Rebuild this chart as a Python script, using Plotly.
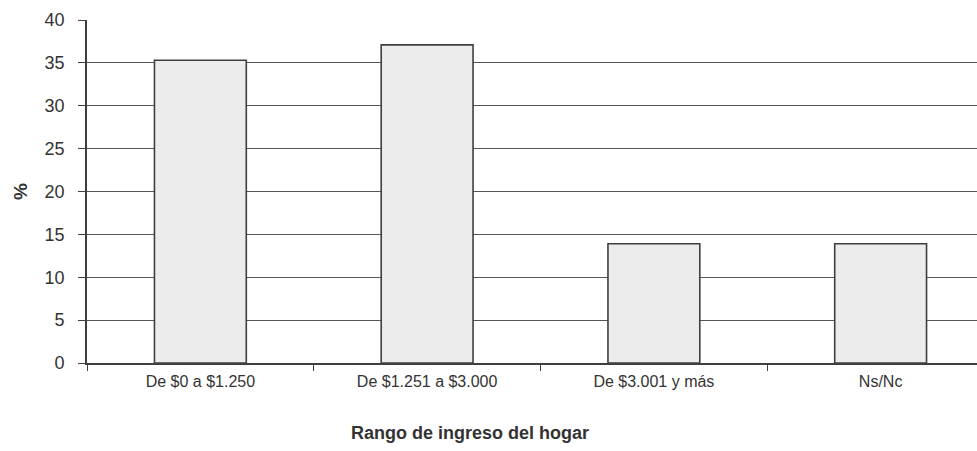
import plotly.graph_objects as go

categories = ["De $0 a $1.250", "De $1.251 a $3.000", "De $3.001 y más", "Ns/Nc"]
values = [35.3, 37.1, 13.9, 13.9]
y_ticks = [0, 5, 10, 15, 20, 25, 30, 35, 40]
x_title = "Rango de ingreso del hogar"

fig = go.Figure()
fig.add_trace(go.Bar(
    x=categories, y=values,
    marker=dict(color="#ececec", line=dict(color="#3f3f3f", width=1.6)),
    width=0.405,
))

fig.update_layout(
    width=994, height=451,
    margin=dict(l=87, r=0, t=20, b=88),
    paper_bgcolor="white", plot_bgcolor="white",
    font=dict(family="Liberation Sans, Arial, sans-serif", color="#333333"),
    showlegend=False,
)
fig.add_annotation(
    text="<b>" + x_title + "</b>", xref="paper", yref="paper",
    x=0.422, y=0, yshift=-70, xanchor="center", yanchor="middle",
    showarrow=False, font=dict(size=18, color="#333333"),
)
fig.update_xaxes(
    showline=True, linecolor="#3f3f3f", linewidth=1.6,
    ticks="outside", ticklen=6, tickcolor="#3f3f3f", tickson="boundaries",
    tickfont=dict(size=16), ticklabelstandoff=3,
    showgrid=False,
)
fig.update_yaxes(
    range=[0, 40], tickvals=y_ticks,
    showline=True, linecolor="#3f3f3f", linewidth=1.6,
    ticks="outside", ticklen=7, tickcolor="#3f3f3f",
    tickfont=dict(size=18), ticklabelstandoff=10,
    showgrid=True, gridcolor="#555555", gridwidth=1.3,
    title=dict(text="<b>%</b>", font=dict(size=19), standoff=12),
    zeroline=False,
)
fig.write_html("out.html", config={"displayModeBar": False},
               post_script="document.body.style.margin='0';document.body.style.overflow='hidden';")
